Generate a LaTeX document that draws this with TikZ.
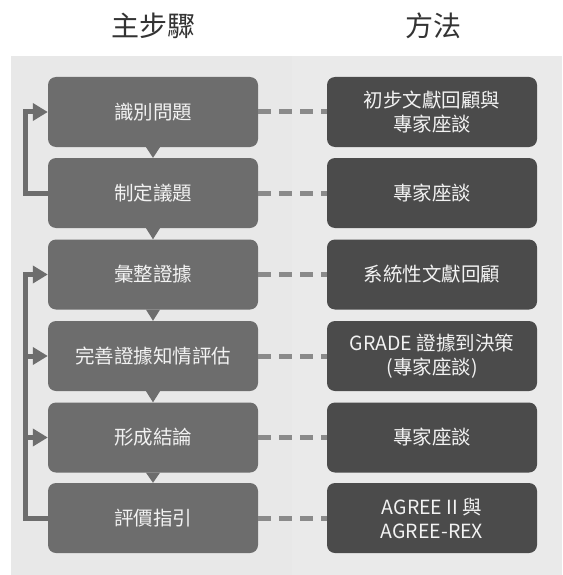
\documentclass[tikz,border=0pt]{standalone}
\usepackage{fontspec}
\setmainfont{Noto Sans CJK TC}
\usetikzlibrary{arrows.meta,calc}
\definecolor{panelL}{HTML}{E8E8E8}
\definecolor{panelR}{HTML}{EAEAEA}
\definecolor{stepfill}{HTML}{6D6D6D}
\definecolor{methfill}{HTML}{4B4B4B}
\definecolor{dashcol}{HTML}{8A8A8A}
\definecolor{headcol}{HTML}{333333}
\definecolor{txtcol}{HTML}{F2F2F2}
\tikzset{
  stepbox/.style={rectangle, rounded corners=8pt, fill=stepfill, minimum width=210pt, minimum height=70pt, text=txtcol, font=\fontsize{19.5}{24}\selectfont, align=center, inner sep=0pt},
  methbox/.style={stepbox, fill=methfill},
  header/.style={text=headcol, font=\fontsize{28}{32}\selectfont},
  link/.style={draw=dashcol, line width=5pt, dash pattern=on 13pt off 8pt},
  loop/.style={draw=stepfill, line width=5pt, line join=miter},
  loopar/.style={loop, -{Triangle[length=15pt,width=17pt]}},
  downtri/.style={fill=stepfill},
}
\begin{document}
\begin{tikzpicture}[x=1pt,y=-1pt]
\useasboundingbox (0,0) rectangle (562,575);
\fill[white] (0,0) rectangle (562,575);
\fill[panelL] (11,56) rectangle (292,575);
\fill[panelR] (292,56) rectangle (562,575);

\node[header] (h1) at (153,26) {主步驟};
\node[header] (h2) at (433,26) {方法};

\node[stepbox] (s1) at (153,112) {識別問題};
\node[stepbox] (s2) at (153,193) {制定議題};
\node[stepbox] (s3) at (153,274.5) {彙整證據};
\node[stepbox] (s4) at (153,356) {完善證據知情評估};
\node[stepbox] (s5) at (153,437.5) {形成結論};
\node[stepbox] (s6) at (153,518) {評價指引};

\node[methbox] (m1) at (432,112) {初步文獻回顧與\\專家座談};
\node[methbox] (m2) at (432,193) {專家座談};
\node[methbox] (m3) at (432,274.5) {系統性文獻回顧};
\node[methbox] (m4) at (432,356) {GRADE 證據到決策\\(專家座談)};
\node[methbox] (m5) at (432,437.5) {專家座談};
\node[methbox] (m6) at (432,518) {AGREE II 與\\AGREE-REX};

\foreach \i in {1,...,6} {
  \draw[link] (s\i.east) -- (m\i.west);
}

\foreach \a/\b in {s1/s2,s2/s3,s3/s4,s4/s5,s5/s6} {
  \fill[downtri] ($(\a.south)+(-7,0)$) -- ($(\a.south)+(7,0)$) -- (\b.north) -- cycle;
}

\coordinate (c2) at (25.5,193);
\coordinate (c6) at (25.5,518);
\draw[loopar] (s2.west) -- (c2) |- (s1.west);
\draw[loopar] (s6.west) -- (c6) |- (s3.west);
\draw[loopar] (s6.west -| c6) |- (s4.west);
\draw[loopar] (s6.west -| c6) |- (s5.west);
\end{tikzpicture}
\end{document}
